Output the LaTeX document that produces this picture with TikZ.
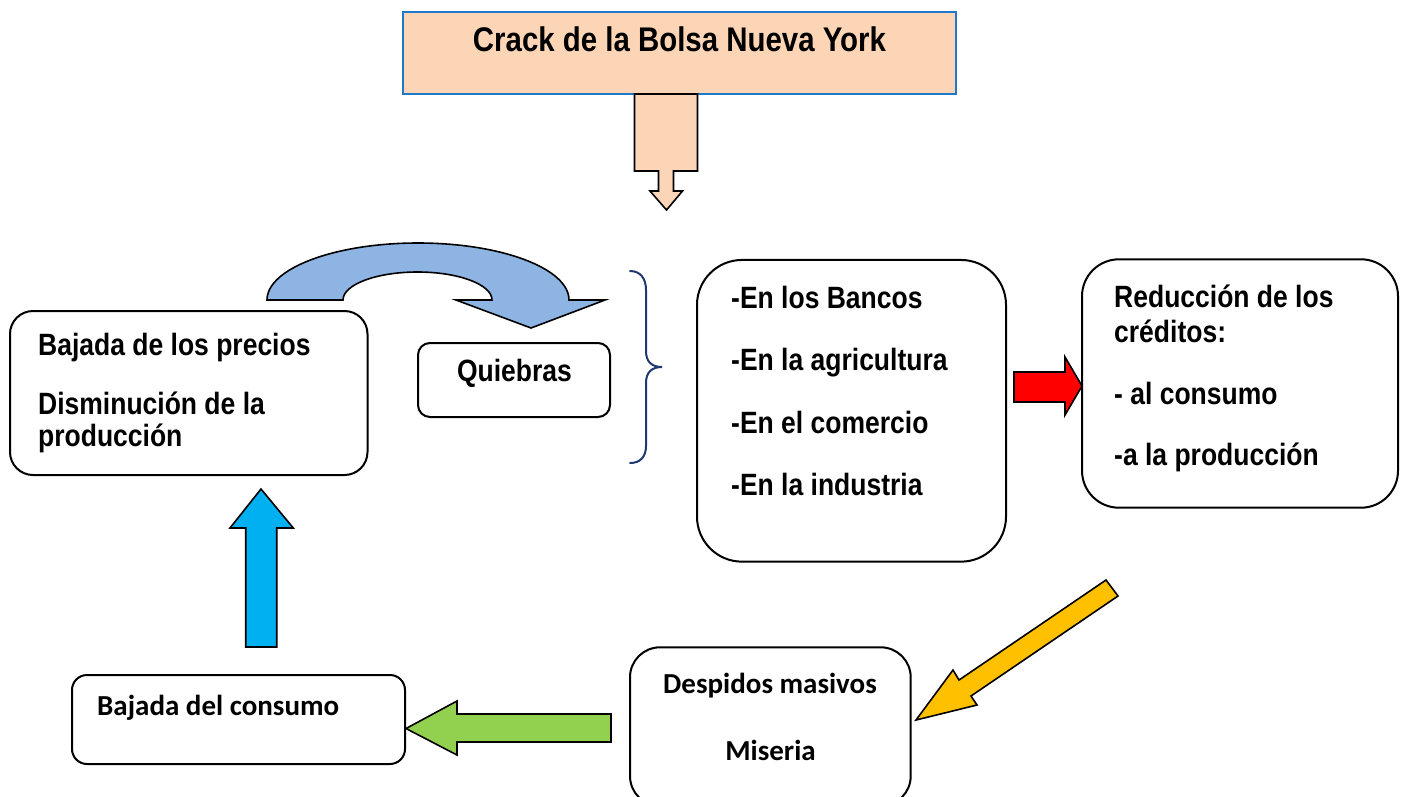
\documentclass[tikz,border=0pt]{standalone}
\usepackage{fontspec}
\newfontfamily\arialf[FakeStretch=0.86]{Liberation Sans}
\newfontfamily\calf{Carlito}
\definecolor{peach}{HTML}{FBD5B5}
\definecolor{titleblue}{HTML}{1F78C8}
\definecolor{curveblue}{HTML}{8EB4E3}
\definecolor{arrred}{HTML}{FF0000}
\definecolor{arryellow}{HTML}{FFC000}
\definecolor{arrgreen}{HTML}{92D050}
\definecolor{arrcyan}{HTML}{00B0F0}
\definecolor{bracecol}{HTML}{1F3870}
\begin{document}
\begin{tikzpicture}[x=1pt,y=-1pt,
  tA/.style={font=\arialf\bfseries\fontsize{30.8}{36}\selectfont, inner sep=0pt, anchor=base west},
  tT/.style={font=\arialf\bfseries\fontsize{34.2}{40}\selectfont, inner sep=0pt, anchor=base},
  tC/.style={font=\calf\bfseries\fontsize{29}{34}\selectfont, inner sep=0pt},
  box/.style={draw=black, line width=2pt, fill=white, inner sep=0pt, outer sep=0pt},
  blockarrow/.style={draw=black, line width=1.6pt, line join=miter}
]
\useasboundingbox (0,0) rectangle (1402,796);

% title box
\node[draw=titleblue, line width=2pt, fill=peach, minimum width=553pt, minimum height=82pt, inner sep=0pt] (title) at (679.5,53) {};
\node[tT] (ttitle) at (679.5,51) {Crack de la Bolsa Nueva York};

% down arrow
\draw[blockarrow, fill=peach] (634.5,94) -- (697.5,94) -- (697.5,171) -- (673.5,171) -- (673.5,191) -- (682.5,191)
  -- (666.5,210) -- (650,191) -- (658.5,191) -- (658.5,171) -- (634.5,171) -- cycle;

% boxes
\node[box, rounded corners=23pt, minimum width=357.5pt, minimum height=164pt] (left) at (188.75,393) {};
\node[box, rounded corners=12pt, minimum width=192pt, minimum height=74pt] (quiebras) at (514,380) {};
\node[box, rounded corners=45pt, minimum width=309pt, minimum height=301.7pt] (mid) at (851.5,410.8) {};
\node[box, rounded corners=37pt, minimum width=316pt, minimum height=248.4pt] (right) at (1240,383.5) {};
\node[box, rounded corners=30pt, minimum width=280.7pt, minimum height=158.7pt] (despidos) at (770.35,726.65) {};
\node[box, rounded corners=15pt, minimum width=333pt, minimum height=89pt] (consumo) at (238.5,719.5) {};

% texts
\node[tA] (l1) at (38,355) {Bajada de los precios};
\node[tA] (l2) at (38,414) {Disminución de la};
\node[tA] (l3) at (38,446) {producción};
\node[tA, anchor=base] (q1) at (514.5,381) {Quiebras};
\node[tA] (m1) at (731,308.5) {-En los Bancos};
\node[tA] (m2) at (731,370.5) {-En la agricultura};
\node[tA] (m3) at (731,433) {-En el comercio};
\node[tA] (m4) at (731,495.5) {-En la industria};
\node[tA] (r1) at (1114,307) {Reducción de los};
\node[tA] (r2) at (1114,342) {créditos:};
\node[tA] (r3) at (1114,404) {- al consumo};
\node[tA] (r4) at (1114,465) {-a la producción};
\node[tC, anchor=base] (d1) at (770,693) {Despidos masivos};
\node[tC, anchor=base] (d2) at (770.5,760) {Miseria};
\node[tC, anchor=base west] (c1) at (97,715) {Bajada del consumo};

% curved arrow
\draw[blockarrow, fill=curveblue] (267,300)
  .. controls (267,268.5) and (334.6,243) .. (418,243)
  .. controls (501.4,243) and (569,268.5) .. (569,300)
  -- (605,300) -- (531,328) -- (456,300) -- (492,300)
  .. controls (492,284.5) and (458.6,272) .. (417.5,272)
  .. controls (376.4,272) and (343,284.5) .. (343,300) -- cycle;

% brace
\draw[bracecol, line width=2pt, line cap=round] (630,271)
  .. controls (640,271) and (646,278) .. (646,290) -- (646,351)
  .. controls (646,362) and (652,367) .. (662,367)
  .. controls (652,367) and (646,372) .. (646,383) -- (646,446)
  .. controls (646,457) and (640,463) .. (630,463);

% red arrow
\draw[blockarrow, fill=arrred] (1014,372) -- (1065,372) -- (1065,357) -- (1082,386) -- (1065,415) -- (1065,402) -- (1014,402) -- cycle;

% yellow arrow
\draw[blockarrow, fill=arryellow] (1106,580) -- (1118,596) -- (971,696) -- (977,705) -- (916,720) -- (953,670) -- (959,680) -- cycle;

% green arrow
\draw[blockarrow, fill=arrgreen] (611,714) -- (457,714) -- (457,701) -- (406,728.5) -- (457,755) -- (457,742) -- (611,742) -- cycle;

% cyan arrow
\draw[blockarrow, fill=arrcyan] (245.7,647) -- (245.7,528) -- (230,528) -- (261,489) -- (293.3,528) -- (276.7,528) -- (276.7,647) -- cycle;
\end{tikzpicture}
\end{document}
